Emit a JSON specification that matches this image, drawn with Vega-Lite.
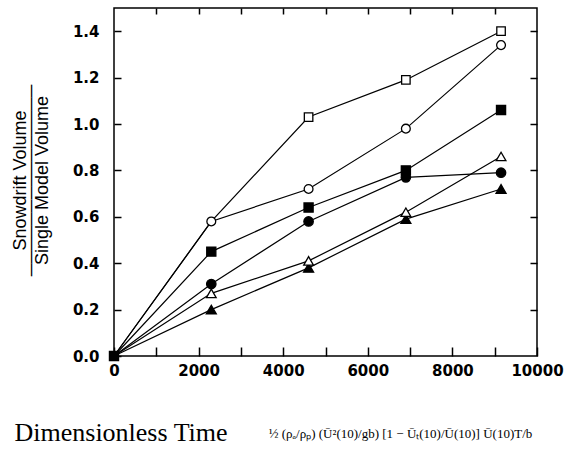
{
  "$schema": "https://vega.github.io/schema/vega-lite/v6.json",
  "width": 423,
  "height": 348,
  "autosize": {"type": "none"},
  "padding": {"left": 114, "top": 8, "right": 29, "bottom": 106},
  "background": "white",
  "config": {
    "view": {"stroke": "black", "strokeWidth": 1.5},
    "axis": {
      "domain": false,
      "grid": false,
      "tickColor": "black",
      "tickWidth": 1.5,
      "labelColor": "black",
      "labelFont": "DejaVu Sans",
      "labelFontWeight": "bold",
      "labelFontSize": 15,
      "titleColor": "black",
      "titleFontWeight": "normal"
    }
  },
  "data": {
    "values": [
      {"series": "S1", "t": 0, "v": 0},
      {"series": "S1", "t": 2300, "v": 0.58},
      {"series": "S1", "t": 4600, "v": 1.03},
      {"series": "S1", "t": 6900, "v": 1.19},
      {"series": "S1", "t": 9150, "v": 1.40},
      {"series": "S2", "t": 0, "v": 0},
      {"series": "S2", "t": 2300, "v": 0.58},
      {"series": "S2", "t": 4600, "v": 0.72},
      {"series": "S2", "t": 6900, "v": 0.98},
      {"series": "S2", "t": 9150, "v": 1.34},
      {"series": "S4", "t": 0, "v": 0},
      {"series": "S4", "t": 2300, "v": 0.31},
      {"series": "S4", "t": 4600, "v": 0.58},
      {"series": "S4", "t": 6900, "v": 0.77},
      {"series": "S4", "t": 9150, "v": 0.79},
      {"series": "S3", "t": 0, "v": 0},
      {"series": "S3", "t": 2300, "v": 0.45},
      {"series": "S3", "t": 4600, "v": 0.64},
      {"series": "S3", "t": 6900, "v": 0.80},
      {"series": "S3", "t": 9150, "v": 1.06},
      {"series": "S6", "t": 0, "v": 0},
      {"series": "S6", "t": 2300, "v": 0.20},
      {"series": "S6", "t": 4600, "v": 0.38},
      {"series": "S6", "t": 6900, "v": 0.59},
      {"series": "S6", "t": 9150, "v": 0.72},
      {"series": "S5", "t": 0, "v": 0},
      {"series": "S5", "t": 2300, "v": 0.27},
      {"series": "S5", "t": 4600, "v": 0.41},
      {"series": "S5", "t": 6900, "v": 0.62},
      {"series": "S5", "t": 9150, "v": 0.86}
    ]
  },
  "layer": [
    {
      "mark": {"type": "line", "color": "black", "strokeWidth": 1.2},
      "encoding": {
        "x": {
          "field": "t", "type": "quantitative",
          "scale": {"domain": [0, 10000], "nice": false, "zero": false},
          "axis": {
            "orient": "bottom",
            "values": [0, 1000, 2000, 3000, 4000, 5000, 6000, 7000, 8000, 9000, 10000],
            "format": "d",
            "labelExpr": "datum.value % 2000 === 0 ? datum.label : ''",
            "tickSize": -9,
            "encode": {"ticks": {"update": {"y2": {"signal": "datum.value % 2000 === 0 ? -9 : -5"}}}},
            "labelPadding": 16,
            "labelFlush": false,
            "title": "Dimensionless Time",
            "titleFont": "Liberation Serif",
            "titleFontSize": 26,
            "titleAlign": "left",
            "titleBaseline": "alphabetic",
            "titleX": -100,
            "titleY": 84
          }
        },
        "y": {
          "field": "v", "type": "quantitative",
          "scale": {"domain": [0, 1.5], "nice": false},
          "axis": {
            "orient": "left",
            "values": [0, 0.2, 0.4, 0.6, 0.8, 1.0, 1.2, 1.4],
            "format": ".1f",
            "tickSize": -7,
            "labelPadding": 22,
            "title": ["Snowdrift Volume", "───────────────", "Single Model Volume"],
            "titleFont": "Liberation Sans",
            "titleFontSize": 18,
            "titleLineHeight": 11,
            "titleAngle": -90,
            "titleAlign": "center",
            "titleBaseline": "alphabetic",
            "titleX": -89,
            "titleY": 172
          }
        },
        "detail": {"field": "series"}
      }
    },
    {
      "transform": [{"filter": "(datum.t > 0 && !(datum.series === 'S1' && datum.t === 2300)) || datum.series === 'S3'"}],
      "mark": {"type": "point", "opacity": 1, "stroke": "black", "strokeWidth": 1.3},
      "encoding": {
        "x": {
          "field": "t", "type": "quantitative",
          "scale": {"domain": [0, 10000], "nice": false, "zero": false},
          "axis": {
            "orient": "top",
            "values": [1000, 2000, 3000, 4000, 5000, 6000, 7000, 8000, 9000],
            "labels": false,
            "tickSize": -6,
            "title": "½ (ρₐ/ρₚ) (Ū²(10)/gb) [1 − Ūₜ(10)/Ū(10)] Ū(10)T/b",
            "titleFont": "Liberation Serif",
            "titleFontSize": 13,
            "titleAlign": "center",
            "titleBaseline": "middle",
            "titleX": 286,
            "titleY": 425
          }
        },
        "y": {
          "field": "v", "type": "quantitative",
          "scale": {"domain": [0, 1.5], "nice": false},
          "axis": {
            "orient": "right",
            "values": [0.2, 0.4, 0.6, 0.8, 1.0, 1.2, 1.4],
            "labels": false,
            "tickSize": -7,
            "title": null
          }
        },
        "shape": {
          "field": "series", "type": "nominal",
          "scale": {"domain": ["S1", "S2", "S3", "S4", "S5", "S6"], "range": ["square", "circle", "square", "circle", "triangle-up", "triangle-up"]},
          "legend": null
        },
        "fill": {
          "field": "series", "type": "nominal",
          "scale": {"domain": ["S1", "S2", "S3", "S4", "S5", "S6"], "range": ["white", "white", "black", "black", "white", "black"]},
          "legend": null
        },
        "size": {
          "field": "series", "type": "nominal",
          "scale": {"domain": ["S1", "S2", "S3", "S4", "S5", "S6"], "range": [72, 100, 60, 60, 85, 65]},
          "legend": null
        }
      }
    }
  ],
  "resolve": {"axis": {"x": "independent", "y": "independent"}}
}
